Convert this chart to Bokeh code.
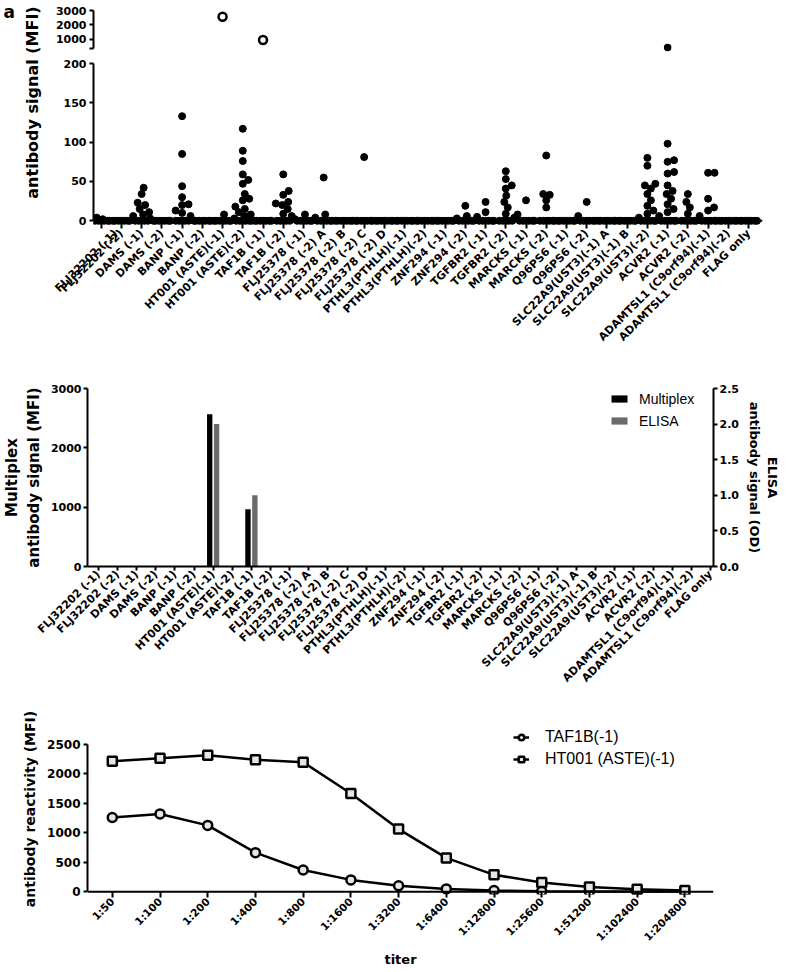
import math
from bokeh.plotting import figure
from bokeh.layouts import column, row
from bokeh.models import (Range1d, FixedTicker, Label, Legend, LegendItem,
                          LinearAxis, Span, ColumnDataSource, PrintfTickFormatter)
from bokeh.transform import dodge
from bokeh.embed import file_html
from bokeh.resources import INLINE

# ---------------- data ----------------
antigens = [
    "FLJ32202 (-1)", "FLJ32202 (-2)", "DAMS (-1)", "DAMS (-2)", "BANP (-1)", "BANP (-2)",
    "HT001 (ASTE)(-1)", "HT001 (ASTE)(-2)", "TAF1B (-1)", "TAF1B (-2)",
    "FLJ25378 (-1)", "FLJ25378 (-2) A", "FLJ25378 (-2) B", "FLJ25378 (-2) C", "FLJ25378 (-2) D",
    "PTHL3(PTHLH)(-1)", "PTHL3(PTHLH)(-2)", "ZNF294 (-1)", "ZNF294 (-2)",
    "TGFBR2 (-1)", "TGFBR2 (-2)", "MARCKS (-1)", "MARCKS (-2)", "Q96PS6 (-1)", "Q96PS6 (-2)",
    "SLC22A9(UST3)(-1) A", "SLC22A9(UST3)(-1) B", "SLC22A9(UST3)(-2)",
    "ACVR2 (-1)", "ACVR2 (-2)", "ADAMTSL1 (C9orf94)(-1)", "ADAMTSL1 (C9orf94)(-2)", "FLAG only",
]

# panel a: antibody signal (MFI) of each serum per antigen
mfi_a = [
    [4, 2, 1, 0, 0, 0, 0, 0, 0],
    [0, 0, 0, 0, 0, 0, 0],
    [42, 34, 23, 20, 15, 11, 8, 6, 3, 0, 0, 0, 0, 0],
    [0, 0, 0, 0, 0, 0, 0],
    [133, 85, 44, 30, 21, 20, 13, 10, 6, 0, 0, 0, 0, 0],
    [0, 0, 0, 0, 0, 0, 0],
    [2570, 8, 0, 0, 0, 0, 0, 0, 0],
    [117, 89, 76, 59, 52, 47, 34, 28, 26, 18, 15, 11, 8, 6, 3, 0, 0, 0, 0, 0, 0],
    [960, 0, 0, 0, 0, 0, 0, 0],
    [59, 38, 33, 24, 22, 20, 15, 9, 6, 0, 0, 0, 0, 0],
    [8, 2, 0, 0, 0, 0, 0, 0],
    [55, 8, 4, 0, 0, 0, 0, 0, 0],
    [0, 0, 0, 0, 0, 0, 0],
    [81, 0, 0, 0, 0, 0, 0, 0],
    [0, 0, 0, 0, 0, 0, 0],
    [0, 0, 0, 0, 0, 0, 0],
    [0, 0, 0, 0, 0, 0, 0],
    [0, 0, 0, 0, 0, 0, 0],
    [19, 6, 3, 0, 0, 0, 0, 0, 0],
    [24, 11, 5, 0, 0, 0, 0, 0, 0],
    [63, 53, 45, 41, 32, 24, 17, 9, 4, 0, 0, 0, 0, 0],
    [26, 8, 0, 0, 0, 0, 0, 0],
    [83, 34, 33, 26, 17, 0, 0, 0, 0, 0, 0],
    [0, 0, 0, 0, 0, 0, 0],
    [24, 6, 0, 0, 0, 0, 0, 0],
    [0, 0, 0, 0, 0, 0, 0],
    [0, 0, 0, 0, 0, 0, 0],
    [80, 70, 47, 45, 41, 34, 26, 19, 13, 9, 4, 0, 0, 0, 0, 0, 0],
    [450, 98, 77, 75, 62, 60, 45, 38, 34, 28, 21, 15, 11, 6, 0, 0, 0, 0, 0, 0],
    [34, 24, 17, 9, 0, 0, 0, 0, 0, 0],
    [61, 61, 28, 17, 13, 6, 0, 0, 0, 0, 0, 0],
    [0, 0, 0, 0, 0, 0, 0],
    [0, 0, 0, 0, 0, 0, 0],
]

# panel b: Multiplex (MFI) and ELISA (OD)
multiplex_b = [0, 0, 0, 0, 0, 0, 2565, 0, 966, 0, 0, 0, 0, 0, 0, 0, 0,
               0, 0, 0, 0, 0, 0, 0, 0, 0, 0, 0, 0, 0, 0, 0, 0]
elisa_b = [0, 0, 0, 0, 0, 0, 2.0, 0, 1.0, 0, 0, 0, 0, 0, 0, 0, 0,
           0, 0, 0, 0, 0, 0, 0, 0, 0, 0, 0, 0, 0, 0, 0, 0]

# panel c: titration
titers = ["1:50", "1:100", "1:200", "1:400", "1:800", "1:1600", "1:3200", "1:6400",
          "1:12800", "1:25600", "1:51200", "1:102400", "1:204800"]
taf1b_c = [1260, 1320, 1125, 662, 368, 200, 100, 47, 20, 8, 3, 2, 1]
ht001_c = [2213, 2266, 2318, 2240, 2198, 1667, 1063, 573, 286, 156, 78, 42, 21]

# ---------------- helpers ----------------
BOLD = "DejaVu Sans"
PLAIN = "Liberation Sans"
TOTAL_W = 787


def style_fig(p):
    p.xgrid.visible = False
    p.ygrid.visible = False
    p.outline_line_color = None
    p.background_fill_color = "white"
    p.border_fill_color = "white"


def style_ax(ax, tick_fs="11px", label_fs="13px"):
    ax.axis_line_width = 2
    ax.axis_line_color = "black"
    ax.major_tick_line_width = 2
    ax.major_tick_line_color = "black"
    ax.major_tick_out = 4
    ax.major_tick_in = 0
    ax.minor_tick_line_color = None
    ax.major_label_text_font = BOLD
    ax.major_label_text_font_style = "bold"
    ax.major_label_text_font_size = tick_fs
    ax.major_label_text_color = "black"
    ax.major_label_standoff = 3
    ax.axis_label_text_font = BOLD
    ax.axis_label_text_font_style = "bold"
    ax.axis_label_text_font_size = label_fs
    ax.axis_label_text_color = "black"


def swarm(vals, ypx, xpx, d=6.5, max_off=8.5):
    """Deterministic beeswarm: horizontal offsets (data units) so dots do not overlap."""
    cands = [0.0]
    k = 1
    while k * 0.5 <= max_off:
        cands += [k * 0.5, -k * 0.5]
        k += 1
    placed = []
    offs = [0.0] * len(vals)
    for idx in sorted(range(len(vals)), key=lambda j: vals[j]):
        y = vals[idx] * ypx
        best, bestd = 0.0, -1.0
        for c in cands:
            md = min((math.hypot(c - px, y - py) for px, py in placed), default=1e9)
            if md >= d:
                best = c
                break
            if md > bestd:
                bestd, best = md, c
        placed.append((best, y))
        offs[idx] = best / xpx
    return offs


labels_map = {i: name for i, name in enumerate(antigens)}
ticks_all = list(range(len(antigens)))

# ---------------- panel a ----------------
LF_W = 52
A_W = TOTAL_W - LF_W
A_LEFT, A_RIGHT = 37, 25
xr_a = Range1d(-0.38, 32.69)
a_frame_w = A_W - A_LEFT - A_RIGHT
xpx_a = a_frame_w / (xr_a.end - xr_a.start)

A1_TOP, A1_FRAME = 10, 42
A2_TOP, A2_FRAME, A2_BOT = 11, 162, 147
yr_a2 = Range1d(-6, 200)
ypx_a2 = A2_FRAME / (yr_a2.end - yr_a2.start)
A_H = A1_TOP + A1_FRAME + A2_TOP + A2_FRAME + A2_BOT
A1_BREAK = 380

lo_x, lo_y, hi_x, hi_y, hi_fill, hi_size = [], [], [], [], [], []
for i, vals in enumerate(mfi_a):
    low = [v for v in vals if v <= 200]
    offs = swarm(low, ypx_a2, xpx_a)
    for v, o in zip(low, offs):
        lo_x.append(i + o)
        lo_y.append(v)
    for v in vals:
        if v > 200:
            hi_x.append(i)
            hi_y.append(v)
            opened = elisa_b[i] > 0
            hi_fill.append("white" if opened else "black")
            hi_size.append(8 if opened else 5)

lf = figure(width=LF_W, height=A_H, x_range=Range1d(0, LF_W), y_range=Range1d(0, A_H),
            x_axis_location=None, y_axis_location=None, toolbar_location=None,
            output_backend="svg", min_border=0)
style_fig(lf)
lf.add_layout(Label(x=32, y=A_H - 102, text="antibody signal (MFI)", angle=math.pi / 2,
                    text_align="center", text_baseline="middle", text_font=BOLD,
                    text_font_style="bold", text_font_size="16px", text_color="black"))
lf.add_layout(Label(x=3, y=A_H - 1, text="a", text_baseline="top", text_align="left",
                    text_font=BOLD, text_font_style="bold", text_font_size="17px",
                    text_color="black"))

pa1 = figure(width=A_W, height=A1_TOP + A1_FRAME, x_range=xr_a, y_range=Range1d(103, 3000),
             x_axis_location=None, toolbar_location=None, output_backend="svg",
             min_border_left=A_LEFT, min_border_right=A_RIGHT, min_border_top=A1_TOP,
             min_border_bottom=0)
style_fig(pa1)
style_ax(pa1.yaxis[0])
pa1.yaxis.ticker = FixedTicker(ticks=[A1_BREAK, 1000, 2000, 3000])
pa1.yaxis.major_label_overrides = {A1_BREAK: ""}
pa1.yaxis.bounds = (A1_BREAK, 3000)
pa1.scatter(hi_x, hi_y, size=hi_size, marker="circle", fill_color=hi_fill,
            line_color="black", line_width=2.5)

pa2 = figure(width=A_W, height=A2_TOP + A2_FRAME + A2_BOT, x_range=xr_a, y_range=yr_a2,
             toolbar_location=None, output_backend="svg",
             min_border_left=A_LEFT, min_border_right=A_RIGHT, min_border_top=A2_TOP,
             min_border_bottom=A2_BOT)
style_fig(pa2)
style_ax(pa2.yaxis[0])
style_ax(pa2.xaxis[0], tick_fs="11px")
pa2.yaxis.ticker = FixedTicker(ticks=[0, 50, 100, 150, 200])
pa2.yaxis.bounds = (0, 200)
pa2.xaxis.ticker = FixedTicker(ticks=ticks_all)
pa2.xaxis.major_label_overrides = labels_map
pa2.xaxis.major_label_orientation = math.pi / 4
pa2.xaxis.axis_line_color = None
pa2.xaxis.major_tick_in = 5
pa2.xaxis.major_tick_out = 3
pa2.xaxis.major_label_standoff = 3
pa2.add_layout(Span(location=0, dimension="width", line_color="black", line_width=2))
pa2.scatter(lo_x, lo_y, size=7, marker="circle", fill_color="black", line_color="black")

panel_a = row(lf, column(pa1, pa2))

# ---------------- panel b ----------------
B_LEFT, B_RIGHT, B_TOP, B_FRAME, B_BOT = 82, 74, 16, 181, 123
src_b = ColumnDataSource(dict(idx=ticks_all, multiplex=multiplex_b, elisa=elisa_b))
xr_b = Range1d(-0.57, 32.16)
pb = figure(width=TOTAL_W, height=B_TOP + B_FRAME + B_BOT, x_range=xr_b,
            y_range=Range1d(0, 3000), toolbar_location=None, output_backend="svg",
            min_border_left=B_LEFT, min_border_right=B_RIGHT, min_border_top=B_TOP,
            min_border_bottom=B_BOT)
style_fig(pb)
pb.extra_y_ranges = {"elisa": Range1d(0, 2.5)}
style_ax(pb.yaxis[0], label_fs="15px")
pb.yaxis.ticker = FixedTicker(ticks=[0, 1000, 2000, 3000])
pb.yaxis.axis_label = "Multiplex\nantibody signal (MFI)"
pb.yaxis.axis_label_standoff = 5
pb.yaxis.major_label_standoff = 2
style_ax(pb.xaxis[0], tick_fs="11px")
pb.xaxis.ticker = FixedTicker(ticks=ticks_all)
pb.xaxis.major_label_overrides = labels_map
pb.xaxis.major_label_orientation = math.pi / 4
pb.xaxis.major_label_standoff = 2

right_ax = LinearAxis(y_range_name="elisa", axis_label="ELISA\nantibody signal (OD)",
                      ticker=FixedTicker(ticks=[0, 0.5, 1.0, 1.5, 2.0, 2.5]),
                      formatter=PrintfTickFormatter(format="%.1f"))
style_ax(right_ax, label_fs="13px")
right_ax.major_label_standoff = 2
right_ax.axis_label_standoff = 5
pb.add_layout(right_ax, "right")

r_mp = pb.vbar(x=dodge("idx", -0.18, range=xr_b), top="multiplex", width=0.28,
               source=src_b, fill_color="black", line_color=None)
r_el = pb.vbar(x=dodge("idx", 0.18, range=xr_b), top="elisa", width=0.28,
               source=src_b, fill_color="#6b6b6b", line_color=None, y_range_name="elisa")
leg_b = Legend(items=[LegendItem(label="Multiplex", renderers=[r_mp]),
                      LegendItem(label="ELISA", renderers=[r_el])],
               location=(604 - B_LEFT, 569 - 432), padding=0, margin=0, spacing=5,
               glyph_width=20, glyph_height=9, label_height=17, label_standoff=10,
               label_text_font=PLAIN, label_text_font_size="14px", label_text_color="black",
               border_line_color=None, background_fill_alpha=0)
pb.add_layout(leg_b)
pb.add_layout(Label(x=3 - B_LEFT, y=B_FRAME + 13, x_units="screen", y_units="screen",
                    text="b", text_baseline="top", text_font=BOLD, text_font_style="bold",
                    text_font_size="17px", text_color="black"))

# ---------------- panel c ----------------
C_LEFT, C_RIGHT, C_TOP, C_FRAME, C_BOT = 78, 25, 31, 180, 67
yr_c = Range1d(-48, 2855)
pc = figure(width=TOTAL_W, height=C_TOP + C_FRAME + C_BOT, x_range=Range1d(-0.52, 12.6),
            y_range=yr_c, toolbar_location=None, output_backend="svg",
            min_border_left=C_LEFT, min_border_right=C_RIGHT, min_border_top=C_TOP,
            min_border_bottom=C_BOT)
style_fig(pc)
style_ax(pc.yaxis[0], tick_fs="12px", label_fs="14px")
pc.yaxis.ticker = FixedTicker(ticks=[0, 500, 1000, 1500, 2000, 2500])
pc.yaxis.bounds = (0, 2500)
pc.yaxis.axis_label = "antibody reactivity (MFI)"
pc.yaxis.axis_label_standoff = 6
style_ax(pc.xaxis[0], tick_fs="10.5px", label_fs="13px")
pc.xaxis.ticker = FixedTicker(ticks=list(range(len(titers))))
pc.xaxis.major_label_overrides = {i: t for i, t in enumerate(titers)}
pc.xaxis.major_label_orientation = math.pi / 4
pc.xaxis.axis_line_color = None
pc.xaxis.major_tick_in = 3
pc.xaxis.major_tick_out = 3
pc.xaxis.major_label_standoff = 2
pc.xaxis.axis_label = "titer"
pc.xaxis.axis_label_standoff = 2
pc.add_layout(Span(location=0, dimension="width", line_color="black", line_width=2))

xc = list(range(len(titers)))
l_t = pc.line(xc, taf1b_c, line_color="black", line_width=2.5)
s_t = pc.scatter(xc, taf1b_c, marker="circle", size=9, fill_color="#e6e6e6",
                 line_color="black", line_width=2.5)
l_h = pc.line(xc, ht001_c, line_color="black", line_width=2.5)
s_h = pc.scatter(xc, ht001_c, marker="square", size=9, fill_color="#e6e6e6",
                 line_color="black", line_width=2.5)
leg_c = Legend(items=[LegendItem(label="TAF1B(-1)", renderers=[l_t, s_t]),
                      LegendItem(label="HT001 (ASTE)(-1)", renderers=[l_h, s_h])],
               location=(504 - C_LEFT, 126), padding=0, margin=0, spacing=3,
               glyph_width=16, glyph_height=14, label_height=19, label_standoff=16,
               label_text_font=PLAIN, label_text_font_size="16px", label_text_color="black",
               border_line_color=None, background_fill_alpha=0)
pc.add_layout(leg_c)
pc.add_layout(Label(x=3 - C_LEFT, y=C_FRAME + 14, x_units="screen", y_units="screen",
                    text="c", text_baseline="top", text_font=BOLD, text_font_style="bold",
                    text_font_size="17px", text_color="black"))

layout = column(panel_a, pb, pc)
open("out.html", "w").write(file_html(layout, INLINE))
